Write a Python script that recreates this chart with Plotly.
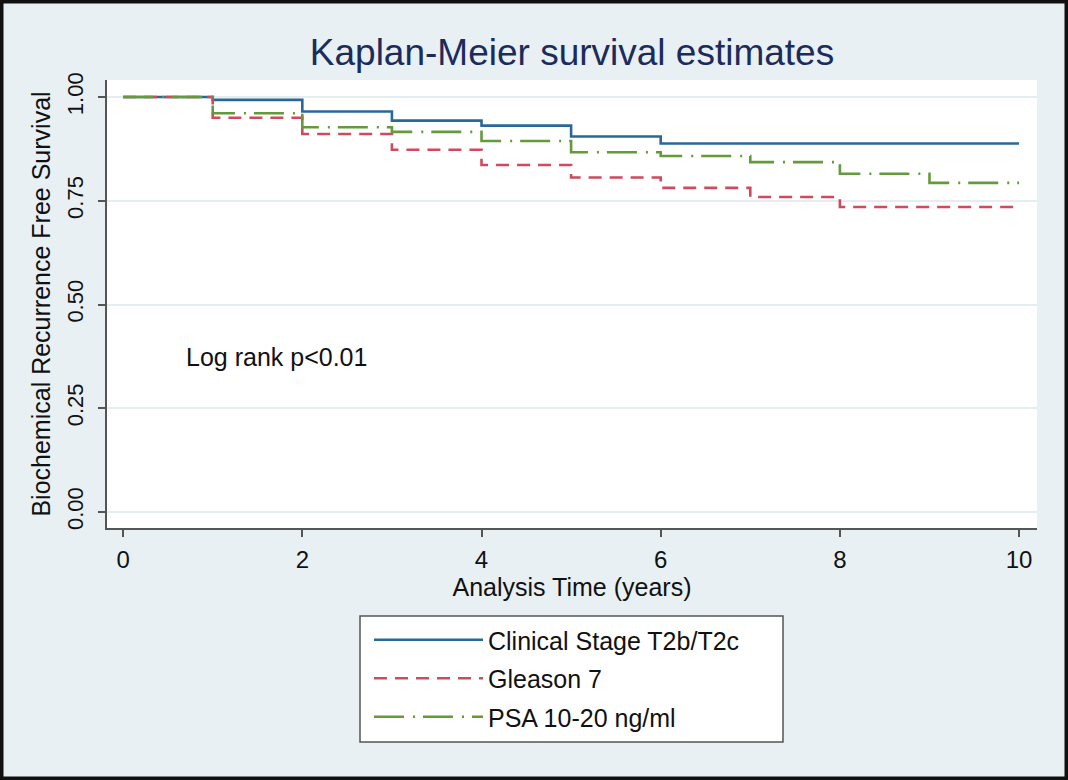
import plotly.graph_objects as go

# ---- data ----
years_blue = [0, 1, 2, 3, 4, 5, 6, 10]
surv_blue = [1.0, 0.993, 0.965, 0.943, 0.931, 0.905, 0.888, 0.888]

years_red = [0, 1, 2, 3, 4, 5, 6, 7, 8, 10]
surv_red = [1.0, 0.950, 0.911, 0.873, 0.836, 0.806, 0.781, 0.759, 0.735, 0.735]

years_green = [0, 1, 2, 3, 4, 5, 6, 7, 8, 9, 10]
surv_green = [1.0, 0.961, 0.927, 0.916, 0.894, 0.867, 0.858, 0.843, 0.815, 0.793, 0.793]

series_names = ["Clinical Stage T2b/T2c", "Gleason 7", "PSA 10-20 ng/ml"]
y_ticks = [0, 0.25, 0.5, 0.75, 1.0]
y_tick_labels = ["0.00", "0.25", "0.50", "0.75", "1.00"]
x_ticks = [0, 2, 4, 6, 8, 10]

FONT = "Liberation Sans, Arial, Helvetica, sans-serif"
BG = "#e8f0f3"

W, H = 1068, 780
L, R, T, B = 107, 31, 80, 252
PW, PH = W - L - R, H - T - B

def px2paper_x(px):
    return (px - L) / PW

def px2paper_y(py):
    return (H - B - py) / PH

fig = go.Figure()
fig.add_trace(go.Scatter(x=years_blue, y=surv_blue, mode="lines", line_shape="hv",
                         name=series_names[0], legendgroup="a",
                         line=dict(color="#2a6898", width=2.6)))
fig.add_trace(go.Scatter(x=years_red, y=surv_red, mode="lines", line_shape="hv",
                         name=series_names[1], legendgroup="b",
                         line=dict(color="#cf4a5e", width=2.6, dash="13px,8px")))
fig.add_trace(go.Scatter(x=years_green, y=surv_green, mode="lines", line_shape="hv",
                         name=series_names[2], legendgroup="c",
                         line=dict(color="#659a3a", width=2.6, dash="30px,9px,2px,8px")))

fig.update_layout(
    width=W, height=H,
    margin=dict(l=L, r=R, t=T, b=B, pad=0),
    paper_bgcolor=BG, plot_bgcolor="white",
    font=dict(family=FONT, size=24, color="#111111"),
    title=dict(text="Kaplan-Meier survival estimates", x=572 / W, xanchor="center",
               y=1 - 52 / H, yanchor="middle",
               font=dict(family=FONT, size=37, color="#1b2c5c")),
    xaxis=dict(range=[-0.18, 10.2], tickvals=x_ticks, showgrid=False, zeroline=False,
               showline=True, linecolor="#555555", linewidth=1.5, mirror=False,
               ticks="outside", ticklen=7, tickwidth=1.5, tickcolor="#555555",
               tickfont=dict(size=24), ticklabelstandoff=2,
               title=dict(text="Analysis Time (years)", font=dict(size=25), standoff=4)),
    yaxis=dict(range=[-0.0386, 1.041], tickvals=y_ticks, ticktext=y_tick_labels,
               tickangle=-90, showgrid=True, gridcolor="#e4eef0", gridwidth=1.5,
               zeroline=False, showline=True, linecolor="#555555", linewidth=1.5,
               ticks="outside", ticklen=7, tickwidth=1.5, tickcolor="#555555",
               tickfont=dict(size=22), ticklabelstandoff=6,
               title=dict(text="Biochemical Recurrence Free Survival", font=dict(size=25), standoff=6)),
    showlegend=True,
    legend=dict(x=px2paper_x(369), y=px2paper_y(617), xanchor="left", yanchor="top",
                bgcolor="rgba(0,0,0,0)", borderwidth=0, itemwidth=109,
                traceorder="grouped", tracegroupgap=3,
                font=dict(family=FONT, size=25, color="#111111"), itemclick=False),
)

# legend frame
fig.add_shape(type="rect", xref="paper", yref="paper",
              x0=px2paper_x(360), x1=px2paper_x(783), y0=px2paper_y(742), y1=px2paper_y(616),
              fillcolor="white", line=dict(color="#555555", width=1.5), layer="below")
# outer black frame
fig.add_shape(type="rect", xref="paper", yref="paper",
              x0=px2paper_x(0), x1=px2paper_x(W), y0=px2paper_y(H), y1=px2paper_y(0),
              fillcolor="rgba(0,0,0,0)", line=dict(color="#111111", width=7), layer="above")

fig.add_annotation(x=0.68, y=0.373, xref="x", yref="y", text="Log rank p<0.01",
                   showarrow=False, xanchor="left", yanchor="middle",
                   font=dict(family=FONT, size=25, color="#111111"))

fig.write_html("out.html")
